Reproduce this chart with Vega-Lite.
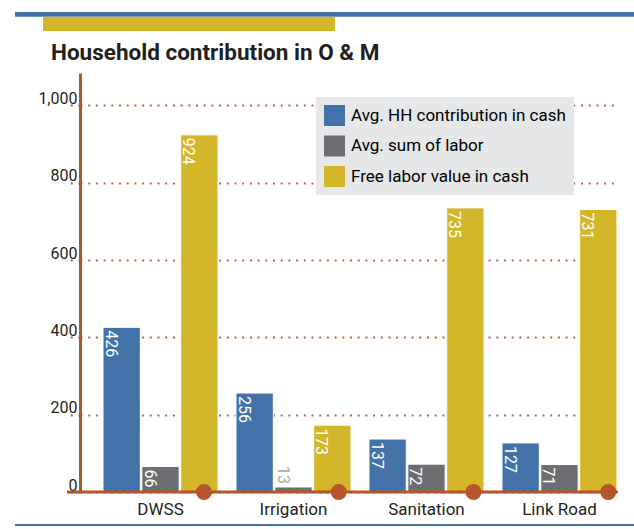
{
  "$schema": "https://vega.github.io/schema/vega-lite/v6.json",
  "padding": {"left": 13, "top": 12, "right": 0, "bottom": 0},
  "bounds": "flush",
  "spacing": 42,
  "resolve": {"scale": {"color": "independent"}, "legend": {"color": "independent"}},
  "config": {"view": {"stroke": null}, "font": "Roboto"},
  "vconcat": [
    {
      "width": 539,
      "height": 19,
      "data": {"values": [{}]},
      "layer": [
        {
          "mark": {"type": "rect", "color": "#4272a9"},
          "encoding": {
            "x": {"datum": -0.1206, "type": "quantitative", "scale": {"domain": [0, 1]}, "axis": null},
            "x2": {"datum": 1.0315},
            "y": {"datum": 1, "type": "quantitative", "scale": {"domain": [0, 1]}, "axis": null},
            "y2": {"datum": 0.75}
          }
        },
        {
          "mark": {"type": "rect", "color": "#d3b629"},
          "encoding": {
            "x": {"datum": -0.0686, "type": "quantitative", "scale": {"domain": [0, 1]}, "axis": null},
            "x2": {"datum": 0.473},
            "y": {"datum": 0.75, "type": "quantitative", "scale": {"domain": [0, 1]}, "axis": null},
            "y2": {"datum": 0}
          }
        }
      ]
    },
    {
      "width": 539,
      "height": 419,
      "title": {
        "text": "Household contribution in O & M",
        "anchor": "start",
        "frame": "group",
        "dx": -29,
        "dy": 25,
        "offset": 16,
        "baseline": "alphabetic",
        "font": "Roboto",
        "fontSize": 22.5,
        "fontWeight": "bold",
        "color": "#231f20"
      },
      "resolve": {"scale": {"x": "independent"}},
      "layer": [
        {
          "data": {
            "values": [
              {"category": "DWSS", "series": "Avg. HH contribution in cash", "value": 426},
              {"category": "DWSS", "series": "Avg. sum of labor", "value": 66},
              {"category": "DWSS", "series": "Free labor value in cash", "value": 924},
              {"category": "Irrigation", "series": "Avg. HH contribution in cash", "value": 256},
              {"category": "Irrigation", "series": "Avg. sum of labor", "value": 13},
              {"category": "Irrigation", "series": "Free labor value in cash", "value": 173},
              {"category": "Sanitation", "series": "Avg. HH contribution in cash", "value": 137},
              {"category": "Sanitation", "series": "Avg. sum of labor", "value": 72},
              {"category": "Sanitation", "series": "Free labor value in cash", "value": 735},
              {"category": "Link Road", "series": "Avg. HH contribution in cash", "value": 127},
              {"category": "Link Road", "series": "Avg. sum of labor", "value": 71},
              {"category": "Link Road", "series": "Free labor value in cash", "value": 731}
            ]
          },
          "encoding": {
            "x": {
              "field": "category",
              "type": "nominal",
              "scale": {
                "domain": ["DWSS", "Irrigation", "Sanitation", "Link Road"],
                "paddingInner": 0.135,
                "paddingOuter": 0.094,
                "align": 0.92
              },
              "axis": {
                "title": null,
                "domain": false,
                "ticks": false,
                "labelAngle": 0,
                "labelPadding": 9,
                "labelFont": "Roboto",
                "labelFontSize": 17,
                "labelColor": "#231f20"
              }
            },
            "y": {
              "field": "value",
              "type": "quantitative",
              "scale": {"domain": [0, 1084], "nice": false, "zero": true},
              "axis": {
                "title": null,
                "values": [0, 200, 400, 600, 800, 1000],
                "format": ",.0f",
                "domainColor": "#b6552b",
                "domainWidth": 3,
                "tickColor": "#b6552b",
                "tickSize": 14,
                "tickWidth": 2,
                "tickDash": [2, 5.7],
                "grid": true,
                "gridColor": "#c0643a",
                "gridWidth": 2,
                "gridDash": [2, 5.7],
                "labelPadding": -11,
                "labelBaseline": "alphabetic",
                "labelOffset": -2,
                "labelFont": "Roboto",
                "labelFontSize": 16,
                "labelColor": "#231f20"
              }
            }
          },
          "layer": [
            {
              "mark": {"type": "bar", "stroke": "white", "strokeWidth": 1},
              "encoding": {
                "xOffset": {
                  "field": "series",
                  "type": "nominal",
                  "scale": {
                    "domain": ["Avg. HH contribution in cash", "Avg. sum of labor", "Free labor value in cash"],
                    "paddingInner": 0.04
                  }
                },
                "color": {
                  "field": "series",
                  "type": "nominal",
                  "scale": {
                    "domain": ["Avg. HH contribution in cash", "Avg. sum of labor", "Free labor value in cash"],
                    "range": ["#4272a9", "#6d6e71", "#d3b629"]
                  },
                  "legend": {
                    "title": null,
                    "orient": "none",
                    "legendX": 236,
                    "legendY": 24,
                    "fillColor": "#e6e7e9",
                    "padding": 8,
                    "symbolType": "square",
                    "symbolSize": 441,
                    "symbolStrokeWidth": 0,
                    "labelOffset": 6,
                    "rowPadding": 9.5,
                    "labelFont": "Roboto",
                    "labelFontSize": 17,
                    "labelLimit": 400,
                    "encode": {
                      "labels": {
                        "update": {
                          "fill": {"signal": "datum.value === 'Avg. HH contribution in cash' ? '#4a76ad' : datum.value === 'Avg. sum of labor' ? '#6d6e71' : '#d6b82e'"}
                        }
                      }
                    }
                  }
                }
              }
            },
            {
              "transform": [{"filter": "datum.value >= 40"}],
              "mark": {
                "type": "text",
                "angle": 90,
                "align": "left",
                "baseline": "alphabetic",
                "dx": 3,
                "dy": 16,
                "font": "Roboto",
                "fontSize": 16,
                "color": "white"
              },
              "encoding": {
                "xOffset": {"field": "series", "type": "nominal"},
                "text": {"field": "value", "type": "quantitative"}
              }
            },
            {
              "transform": [{"filter": "datum.value < 40"}],
              "mark": {
                "type": "text",
                "angle": 90,
                "align": "right",
                "baseline": "alphabetic",
                "dx": -3,
                "dy": 16,
                "font": "Roboto",
                "fontSize": 16,
                "color": "#a7a9ac"
              },
              "encoding": {
                "xOffset": {"field": "series", "type": "nominal"},
                "text": {"field": "value", "type": "quantitative"}
              }
            }
          ]
        },
        {
          "data": {"values": [{}]},
          "layer": [
            {
              "mark": {"type": "rule", "color": "#b6552b", "strokeWidth": 3},
              "encoding": {
                "x": {"datum": -0.0241, "type": "quantitative", "scale": {"domain": [0, 1]}, "axis": null},
                "x2": {"datum": 0.998},
                "y": {"datum": 0, "type": "quantitative"}
              }
            },
            {
              "mark": {"type": "rule", "color": "#4272a9", "strokeWidth": 2},
              "encoding": {
                "x": {"datum": -0.1206, "type": "quantitative", "scale": {"domain": [0, 1]}, "axis": null},
                "x2": {"datum": 1.0315},
                "y": {"datum": -85.6, "type": "quantitative"}
              }
            }
          ]
        },
        {
          "data": {
            "values": [
              {"category": "DWSS"},
              {"category": "Irrigation"},
              {"category": "Sanitation"},
              {"category": "Link Road"}
            ]
          },
          "mark": {"type": "point", "filled": true, "shape": "circle", "size": 254, "color": "#b6552b", "opacity": 1},
          "encoding": {
            "x": {
              "field": "category",
              "type": "nominal",
              "scale": {
                "domain": ["DWSS", "Irrigation", "Sanitation", "Link Road"],
                "paddingInner": 0.135,
                "paddingOuter": 0.094,
                "align": 0.92
              },
              "axis": null
            },
            "y": {"datum": 0, "type": "quantitative"}
          }
        }
      ]
    }
  ]
}
